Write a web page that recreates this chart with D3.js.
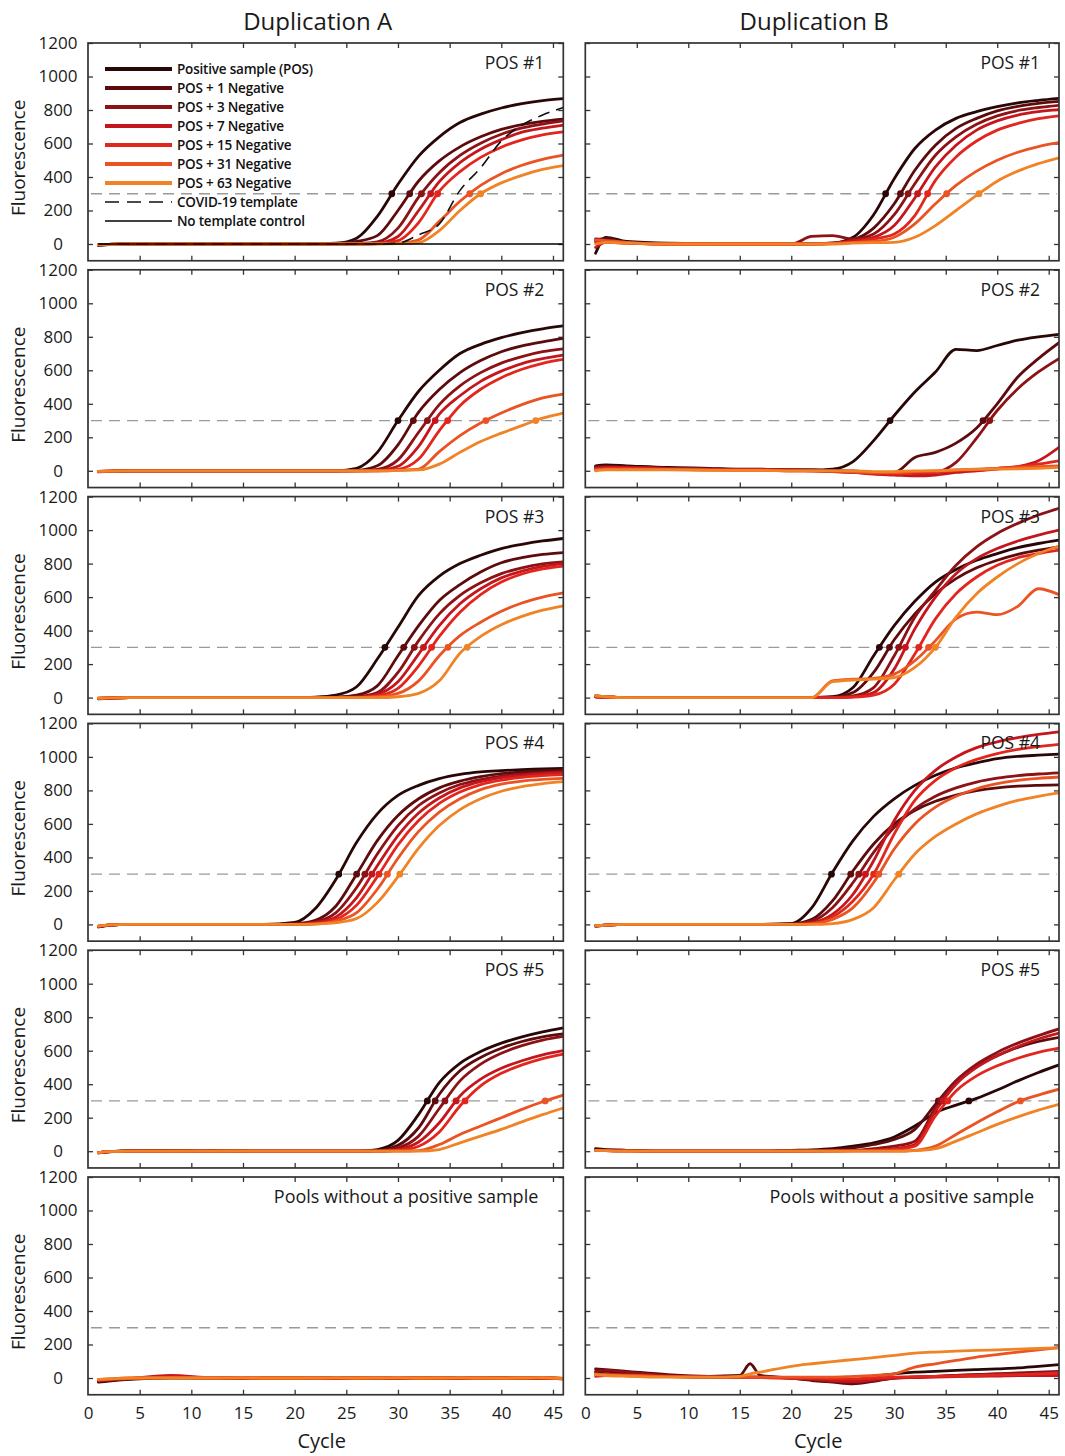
<!DOCTYPE html>
<html>
<head>
<meta charset="utf-8">
<script src="https://cdn.jsdelivr.net/npm/d3@7"></script>
<style>
  body { margin: 0; background: #fff; }
  svg { display: block; font-family: "Open Sans", "Liberation Sans", sans-serif; }
</style>
</head>
<body>
<svg id="chart" width="1065" height="1456"></svg>
<script>
const CYCLES = [1, 2, 4, 8, 12, 15, 16, 17, 20, 22, 24, 26, 28, 30, 32, 34, 36, 38, 40, 42, 44, 46];
const SERIES = ["Positive sample (POS)", "POS + 1 Negative", "POS + 3 Negative", "POS + 7 Negative",
  "POS + 15 Negative", "POS + 31 Negative", "POS + 63 Negative"];
const COLORS = ["#2a0707", "#5e0b0e", "#8c1216", "#c4161c", "#e3261d", "#ea5322", "#f08326"];
const COLUMN_TITLES = ["Duplication A", "Duplication B"];
const ROW_LABELS = ["POS #1", "POS #2", "POS #3", "POS #4", "POS #5", "Pools without a positive sample"];
const X_TICKS = [0, 5, 10, 15, 20, 25, 30, 35, 40, 45];
const Y_TICKS = [0, 200, 400, 600, 800, 1000, 1200];
const THRESHOLD = 300;

// Duplication A
const dupA_pos1 = [
  [-8,-4,0,0,0,0,0,0,0,2,5,35,165,357,525,640,725,775,812,838,856,868],
  [-6,-3,0,0,0,0,0,0,0,0,3,15,50,200,376,496,580,640,684,712,732,745],
  [-5,-2,0,0,0,0,0,0,0,0,0,3,13,95,280,426,529,602,655,693,716,735],
  [-5,-2,0,0,0,0,0,0,0,0,0,2,5,45,200,372,486,566,623,668,692,710],
  [-4,-2,0,0,0,0,0,0,0,0,0,0,3,20,128,315,432,517,578,622,652,670],
  [-4,-2,0,0,0,0,0,0,0,0,0,0,2,5,25,135,255,350,420,470,505,530],
  [-4,-2,0,0,0,0,0,0,0,0,0,0,0,2,8,80,200,300,365,410,445,468]
];
const covidTemplate = [0,0,0,0,0,0,0,0,0,0,0,0,0,5,55,120,320,455,615,710,770,815];
const noTemplate = [0,0,0,0,0,0,0,0,0,0,0,0,0,0,0,0,0,0,0,0,0,0];

const dupA_pos2 = [
  [-6,-3,0,0,0,0,0,0,0,0,0,15,110,300,475,600,700,755,795,825,848,865],
  [-5,-3,0,0,0,0,0,0,0,0,0,3,30,155,350,485,586,658,711,746,770,790],
  [-5,-2,0,0,0,0,0,0,0,0,0,0,8,65,230,395,507,586,643,682,711,728],
  [-4,-2,0,0,0,0,0,0,0,0,0,0,3,27,146,338,448,534,595,640,669,690],
  [-4,-2,0,0,0,0,0,0,0,0,0,0,0,8,70,240,389,487,556,606,642,665],
  [-4,-2,0,0,0,0,0,0,0,0,0,0,0,3,10,115,210,285,345,395,435,458],
  [-4,-2,0,0,0,0,0,0,0,0,0,0,0,2,5,40,110,175,225,270,315,345]
];
const dupA_pos3 = [
  [-8,-4,0,0,0,0,0,0,0,3,15,65,230,420,610,725,800,850,890,915,935,950],
  [-6,-3,0,0,0,0,0,0,0,0,3,15,70,250,430,580,675,750,805,835,855,866],
  [-5,-2,0,0,0,0,0,0,0,0,0,5,30,150,340,500,610,685,740,775,798,810],
  [-5,-2,0,0,0,0,0,0,0,0,0,3,20,95,260,430,560,650,715,755,783,800],
  [-4,-2,0,0,0,0,0,0,0,0,0,0,10,55,190,365,510,615,690,738,768,785],
  [-4,-2,0,0,0,0,0,0,0,0,0,0,5,25,100,250,370,450,515,565,600,625],
  [-4,-2,0,0,0,0,0,0,0,0,0,0,0,5,25,100,265,365,435,485,522,548]
];
const dupA_pos4 = [
  [-15,-5,0,0,0,0,0,0,12,95,270,490,660,770,830,870,895,910,918,924,928,932],
  [-15,-5,0,0,0,0,0,0,5,25,110,300,500,650,750,815,855,882,900,910,917,922],
  [-12,-4,0,0,0,0,0,0,3,15,70,220,420,590,710,785,835,865,885,898,906,912],
  [-12,-4,0,0,0,0,0,0,0,10,45,160,350,530,665,755,815,852,876,890,900,906],
  [-10,-3,0,0,0,0,0,0,0,5,30,115,285,475,620,722,790,835,862,878,888,894],
  [-10,-3,0,0,0,0,0,0,0,3,20,70,210,395,555,670,750,805,838,856,866,872],
  [-10,-3,0,0,0,0,0,0,0,2,10,35,130,285,455,590,685,750,795,823,840,852]
];
const dupA_pos5 = [
  [-10,-4,3,5,0,0,0,0,0,0,0,0,10,65,220,410,525,595,645,683,713,737],
  [-10,-4,0,0,4,0,0,0,0,0,0,0,5,35,140,340,480,560,615,655,683,700],
  [-8,-3,0,4,0,0,0,0,0,0,0,0,3,20,90,255,420,520,585,630,663,685],
  [-8,-3,0,0,0,3,0,0,0,0,0,0,0,10,55,170,330,430,495,540,575,600],
  [-8,-3,0,0,0,0,0,0,0,0,0,0,0,5,30,115,270,390,465,515,553,580],
  [-8,-3,0,0,0,0,0,0,0,0,0,0,0,0,3,40,100,150,200,250,295,335],
  [-8,-3,0,0,0,0,0,0,0,0,0,0,0,0,0,10,50,90,130,175,218,258]
];
const dupA_none = [
  [-25,-18,-8,0,0,2,0,0,0,2,0,-2,0,2,0,0,3,0,-2,0,0,-4],
  [-20,-15,-5,2,3,0,2,0,0,0,3,0,-2,0,2,0,0,3,0,-2,0,-3],
  [-18,-12,-5,3,0,0,0,2,2,0,0,2,0,-2,0,3,0,0,2,0,-2,-5],
  [-15,-10,-3,15,2,0,0,0,0,2,0,0,3,0,0,-2,2,0,0,2,0,-5],
  [-12,-8,-2,5,0,2,0,0,2,0,-2,0,0,3,0,0,-2,2,0,0,3,-3],
  [-10,-6,0,2,2,0,3,0,0,2,0,0,2,0,0,2,0,0,-2,2,0,-4],
  [-8,-5,0,0,0,2,0,0,0,0,2,0,0,2,0,0,2,0,0,0,2,-3]
];

// Duplication B
const dupB_pos1 = [
  [-55,40,15,5,3,0,0,0,0,2,5,40,175,390,570,680,750,790,820,843,858,870],
  [20,35,10,3,0,0,0,0,0,3,5,25,95,240,440,590,690,750,795,822,840,852],
  [30,25,10,0,0,0,0,0,0,45,50,30,60,175,360,530,640,715,765,797,815,828],
  [-20,10,5,0,0,0,0,0,0,0,5,20,40,110,275,460,590,680,735,770,790,802],
  [10,15,5,0,0,0,0,0,0,0,3,10,30,60,170,380,520,615,680,720,748,765],
  [25,20,10,0,0,0,0,0,0,0,3,10,15,40,120,240,350,435,500,548,582,605],
  [0,10,5,0,0,0,0,0,0,0,0,5,8,10,40,110,200,290,375,435,480,515]
];
const dupB_pos2 = [
  [30,35,30,20,15,10,10,10,5,5,10,55,180,330,470,590,725,718,748,780,800,815],
  [25,30,25,15,10,8,8,8,5,5,0,0,-10,-10,80,110,165,255,400,560,670,765],
  [20,25,20,15,10,8,8,8,5,3,0,-5,-15,-20,-20,-10,50,195,360,490,590,670],
  [15,20,20,15,10,8,8,8,5,0,-5,-10,-20,-25,-30,-25,-10,0,10,25,60,140],
  [10,15,15,10,5,5,5,5,0,0,-5,-10,-15,-20,-15,-10,0,5,15,25,40,60],
  [5,10,10,8,5,3,3,3,0,0,0,-5,-10,-10,-5,0,5,10,15,20,25,30],
  [0,5,5,5,3,2,2,2,0,0,0,0,-5,-5,0,0,5,8,10,12,15,20]
];
const dupB_pos3 = [
  [10,5,0,0,0,0,0,0,0,0,5,60,250,430,575,690,765,820,860,895,920,940],
  [5,3,0,0,0,0,0,0,0,0,3,30,150,345,500,620,710,775,820,855,880,900],
  [5,3,0,0,0,0,0,0,0,0,0,10,60,250,480,640,790,900,980,1040,1090,1130],
  [5,3,0,0,0,0,0,0,0,0,0,5,30,170,410,600,740,830,890,935,970,1000],
  [5,3,0,0,0,0,0,0,0,0,0,3,15,80,260,470,620,720,790,835,860,880],
  [10,5,0,0,0,0,0,0,0,0,100,110,115,140,220,340,470,510,495,545,650,615],
  [10,5,0,0,0,0,0,0,0,0,95,105,110,120,180,300,480,620,720,800,860,905]
];
const dupB_pos4 = [
  [-10,-5,0,0,0,0,0,0,5,100,310,500,645,750,830,890,935,965,990,1003,1010,1016],
  [-10,-5,0,0,0,0,0,0,3,30,140,320,480,600,680,735,772,798,815,825,830,833],
  [-8,-4,0,0,0,0,0,0,2,20,100,250,430,580,690,765,815,850,873,888,898,905],
  [-8,-4,0,0,0,0,0,0,0,10,60,180,380,620,800,920,1000,1055,1090,1115,1135,1150],
  [-8,-4,0,0,0,0,0,0,0,5,45,140,300,540,740,860,935,985,1020,1045,1062,1075],
  [-8,-4,0,0,0,0,0,0,0,3,30,100,250,450,600,700,765,810,840,860,872,880],
  [-8,-4,0,0,0,0,0,0,0,0,5,30,100,265,420,525,600,660,705,740,765,785]
];
const dupB_pos5 = [
  [15,10,5,0,0,0,0,0,5,8,15,30,50,85,150,230,275,315,365,420,470,515],
  [10,8,5,0,0,0,0,0,3,5,10,20,40,70,130,280,420,510,570,620,655,680],
  [5,5,3,0,0,0,0,0,0,3,5,5,15,30,60,260,420,520,590,645,690,730],
  [5,5,3,0,0,0,0,0,0,0,3,5,5,15,40,240,400,500,570,625,670,705],
  [5,3,0,0,0,0,0,0,0,0,0,3,5,10,30,210,360,450,510,555,590,615],
  [5,3,0,0,0,0,0,0,0,0,0,0,0,0,5,30,100,170,235,295,335,370],
  [5,3,0,0,0,0,0,0,0,0,0,0,0,0,3,15,60,110,160,205,245,280]
];
const dupB_none = [
  [35,40,30,10,10,5,5,5,0,-10,-20,-15,10,25,35,40,45,50,55,60,70,80],
  [55,50,40,20,10,15,85,15,0,-15,-25,-35,-20,0,5,10,15,20,25,25,30,30],
  [40,45,35,15,5,5,5,5,0,-10,-20,-25,-15,0,5,10,15,20,25,30,35,40],
  [20,25,20,10,5,3,3,3,0,-5,-15,-20,-10,0,3,5,8,10,12,15,15,15],
  [10,15,15,8,5,3,3,3,0,0,-5,-5,0,5,8,10,12,15,18,20,25,30],
  [25,20,15,8,5,5,5,5,5,5,5,10,15,25,65,85,105,125,140,155,168,182],
  [20,15,10,5,5,10,25,35,70,85,98,110,122,135,148,155,160,165,168,172,176,180]
];

const PANELS = [
  [dupA_pos1, dupA_pos2, dupA_pos3, dupA_pos4, dupA_pos5, dupA_none],
  [dupB_pos1, dupB_pos2, dupB_pos3, dupB_pos4, dupB_pos5, dupB_none]
];

// layout
const COL_X = [[88, 563.3], [585.3, 1059]];
const ROW_TOP = 43;
const ROW_STEP = 226.8;
const PANEL_H = 217.75;
const INK = "#333";
const TEXT = "#1a1a1a";

const svg = d3.select("#chart");

// first crossing of the threshold, for the Ct markers
const crossing = (vals) => {
  for (let i = 0; i < vals.length - 1; i++) {
    if (vals[i] < THRESHOLD && vals[i + 1] >= THRESHOLD) {
      const t = (THRESHOLD - vals[i]) / (vals[i + 1] - vals[i]);
      return CYCLES[i] + t * (CYCLES[i + 1] - CYCLES[i]);
    }
  }
  return null;
};

COLUMN_TITLES.forEach((title, c) => {
  svg.append("text")
    .attr("x", (COL_X[c][0] + COL_X[c][1]) / 2 - 8)
    .attr("y", 30)
    .attr("text-anchor", "middle")
    .attr("font-size", 24)
    .attr("fill", TEXT)
    .text(title);
});

PANELS.forEach((col, c) => {
  col.forEach((panel, r) => {
    const top = ROW_TOP + r * ROW_STEP;
    const x = d3.scaleLinear().domain([0, 46]).range(COL_X[c]);
    const y = d3.scaleLinear().domain([-100, 1200]).range([top + PANEL_H, top]);
    const g = svg.append("g");
    const clipId = `clip-${c}-${r}`;

    g.append("clipPath").attr("id", clipId)
      .append("rect")
      .attr("x", x(0)).attr("y", top)
      .attr("width", x(46) - x(0)).attr("height", PANEL_H);

    // axes with inward ticks on all four sides
    const left = g.append("g").attr("transform", `translate(${x(0)},0)`)
      .call(d3.axisLeft(y).tickValues(Y_TICKS).tickSize(-5).tickPadding(0)
        .tickFormat(c === 0 ? d3.format("d") : ""));
    left.selectAll("text")
      .attr("x", 58 - x(0))
      .attr("text-anchor", "middle")
      .attr("font-size", 17)
      .attr("font-family", "'Open Sans', sans-serif")
      .attr("fill", TEXT);
    g.append("g").attr("transform", `translate(${x(46)},0)`)
      .call(d3.axisRight(y).tickValues(Y_TICKS).tickSize(-5).tickFormat(""));
    g.append("g").attr("transform", `translate(0,${top})`)
      .call(d3.axisTop(x).tickValues(X_TICKS.slice(1)).tickSize(-5).tickFormat(""));
    const bottom = g.append("g").attr("transform", `translate(0,${top + PANEL_H})`)
      .call(d3.axisBottom(x).tickValues(X_TICKS).tickSize(-5).tickPadding(12)
        .tickFormat(r === 5 ? d3.format("d") : ""));
    bottom.selectAll("text")
      .attr("font-size", 17)
      .attr("font-family", "'Open Sans', sans-serif")
      .attr("fill", TEXT);
    bottom.select(".tick line").remove();
    g.selectAll(".domain").remove();
    g.selectAll(".tick line").attr("stroke", INK).attr("stroke-width", 1.3);

    // threshold
    g.append("line")
      .attr("x1", x(0) + 3).attr("x2", x(46) - 2)
      .attr("y1", y(THRESHOLD)).attr("y2", y(THRESHOLD))
      .attr("stroke", "#9a9a9a").attr("stroke-width", 1.3)
      .attr("stroke-dasharray", "11,7");

    const line = d3.line()
      .x((d, i) => x(CYCLES[i]))
      .y((d) => y(d))
      .curve(d3.curveMonotoneX);

    const plot = g.append("g").attr("clip-path", `url(#${clipId})`);

    plot.selectAll("path.curve")
      .data(panel)
      .join("path")
      .attr("class", "curve")
      .attr("d", line)
      .attr("fill", "none")
      .attr("stroke", (d, i) => COLORS[i])
      .attr("stroke-width", 2.8)
      .attr("stroke-linejoin", "round")
      .attr("stroke-linecap", "round");

    if (c === 0 && r === 0) {
      plot.append("path").attr("d", line(noTemplate))
        .attr("fill", "none").attr("stroke", "#000").attr("stroke-width", 1.3);
      plot.append("path").attr("d", line(covidTemplate))
        .attr("fill", "none").attr("stroke", "#111").attr("stroke-width", 1.6)
        .attr("stroke-dasharray", "12,7");
    }

    if (r < 5) {
      const cts = panel.map((vals, i) => ({ ct: crossing(vals), i }))
        .filter((d) => d.ct !== null);
      plot.selectAll("circle")
        .data(cts)
        .join("circle")
        .attr("cx", (d) => x(d.ct))
        .attr("cy", y(THRESHOLD))
        .attr("r", 3.4)
        .attr("fill", (d) => COLORS[d.i]);
    }

    // frame
    g.append("rect")
      .attr("x", x(0)).attr("y", top)
      .attr("width", x(46) - x(0)).attr("height", PANEL_H)
      .attr("fill", "none").attr("stroke", INK).attr("stroke-width", 1.7);

    // panel label
    const label = ROW_LABELS[r];
    g.append("text")
      .attr("x", r === 5 ? x(46) - 25 : x(46) - 19)
      .attr("y", top + 26)
      .attr("text-anchor", "end")
      .attr("font-size", r === 5 ? 18 : 17.5)
      .attr("fill", TEXT)
      .text(label);

    if (c === 0) {
      svg.append("text")
        .attr("transform", `translate(25,${top + PANEL_H / 2 + 6}) rotate(-90)`)
        .attr("text-anchor", "middle")
        .attr("font-size", 19)
        .attr("fill", TEXT)
        .text("Fluorescence");
    }
    if (r === 5) {
      svg.append("text")
        .attr("x", (COL_X[c][0] + COL_X[c][1]) / 2 - 4)
        .attr("y", top + PANEL_H + 53)
        .attr("text-anchor", "middle")
        .attr("font-size", 20)
        .attr("fill", TEXT)
        .text("Cycle");
    }
  });
});

// legend in the first panel
const legendItems = SERIES.map((name, i) => ({ name, color: COLORS[i], width: 4, dash: null }))
  .concat([
    { name: "COVID-19 template", color: "#111", width: 1.6, dash: "14,8" },
    { name: "No template control", color: "#000", width: 1.3, dash: null }
  ]);
const legend = svg.append("g").selectAll("g")
  .data(legendItems)
  .join("g")
  .attr("transform", (d, i) => `translate(105,${69 + i * 19})`);
legend.append("line")
  .attr("x1", 0).attr("x2", 67)
  .attr("stroke", (d) => d.color)
  .attr("stroke-width", (d) => d.width)
  .attr("stroke-dasharray", (d) => d.dash);
legend.append("text")
  .attr("x", 72).attr("dy", "0.35em")
  .attr("font-size", 13.5)
  .attr("font-weight", 600)
  .attr("letter-spacing", -0.2)
  .attr("fill", "#111")
  .text((d) => d.name);
</script>
</body>
</html>
